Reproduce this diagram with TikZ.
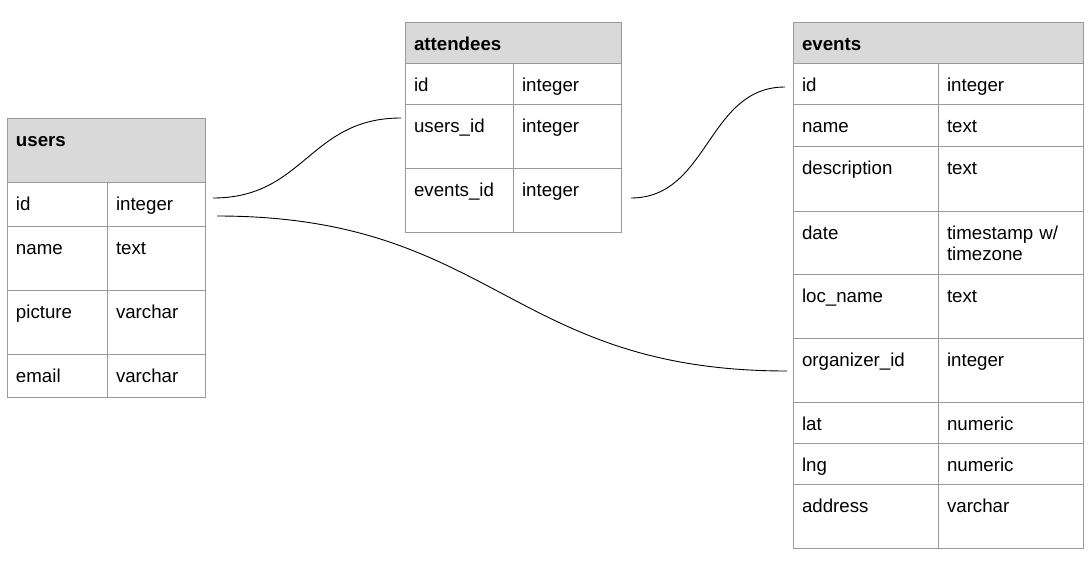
\documentclass[tikz,border=0pt]{standalone}
\usepackage{fontspec}
\setmainfont{Liberation Sans}
\usetikzlibrary{positioning}

\begin{document}
\begin{tikzpicture}[
    x=1pt, y=-1pt,
    node distance=0pt,
    cell/.style={rectangle, draw=black!40, line width=1pt, anchor=north west, inner xsep=9pt, inner ysep=0pt, outer sep=0pt, align=left, text height=28pt, font=\fontsize{18.7}{21.5}\selectfont},
    rowh/.style={text depth=#1-28},
    hdr/.style={cell, fill=black!15, font=\fontsize{18.7}{21.5}\selectfont\bfseries},
    link/.style={draw=black, line width=0.9pt}
]
\useasboundingbox (0,0) rectangle (1090,562);

% users
\node[hdr, text width=180pt, rowh=64] (users) at (7,118) {users};
\node[cell, text width=82pt, rowh=44, below right=0pt of users.south west] (uid) {id};
\node[cell, text width=80pt, rowh=44, right=0pt of uid] (uidt) {integer};
\node[cell, text width=82pt, rowh=64, below=0pt of uid] (uname) {name};
\node[cell, text width=80pt, rowh=64, right=0pt of uname] (unamet) {text};
\node[cell, text width=82pt, rowh=64, below=0pt of uname] (upic) {picture};
\node[cell, text width=80pt, rowh=64, right=0pt of upic] (upict) {varchar};
\node[cell, text width=82pt, rowh=43, below=0pt of upic] (umail) {email};
\node[cell, text width=80pt, rowh=43, right=0pt of umail] (umailt) {varchar};

% attendees
\node[hdr, text width=198pt, rowh=41] (attendees) at (405,22) {attendees};
\node[cell, text width=90pt, rowh=41, below right=0pt of attendees.south west] (aid) {id};
\node[cell, text width=90pt, rowh=41, right=0pt of aid] (aidt) {integer};
\node[cell, text width=90pt, rowh=64, below=0pt of aid] (auid) {users\_id};
\node[cell, text width=90pt, rowh=64, right=0pt of auid] (auidt) {integer};
\node[cell, text width=90pt, rowh=64, below=0pt of auid] (aevt) {events\_id};
\node[cell, text width=90pt, rowh=64, right=0pt of aevt] (aevtt) {integer};

% events
\node[hdr, text width=272pt, rowh=41] (events) at (793,22) {events};
\node[cell, text width=127pt, rowh=41, below right=0pt of events.south west] (eid) {id};
\node[cell, text width=127pt, rowh=41, right=0pt of eid] (eidt) {integer};
\node[cell, text width=127pt, rowh=42, below=0pt of eid] (ename) {name};
\node[cell, text width=127pt, rowh=42, right=0pt of ename] (enamet) {text};
\node[cell, text width=127pt, rowh=65, below=0pt of ename] (edesc) {description};
\node[cell, text width=127pt, rowh=65, right=0pt of edesc] (edesct) {text};
\node[cell, text width=127pt, rowh=63, below=0pt of edesc] (edate) {date};
\node[cell, text width=127pt, rowh=63, right=0pt of edate] (edatet) {timestamp w/\\timezone};
\node[cell, text width=127pt, rowh=64, below=0pt of edate] (eloc) {loc\_name};
\node[cell, text width=127pt, rowh=64, right=0pt of eloc] (eloct) {text};
\node[cell, text width=127pt, rowh=64, below=0pt of eloc] (eorg) {organizer\_id};
\node[cell, text width=127pt, rowh=64, right=0pt of eorg] (eorgt) {integer};
\node[cell, text width=127pt, rowh=41, below=0pt of eorg] (elat) {lat};
\node[cell, text width=127pt, rowh=41, right=0pt of elat] (elatt) {numeric};
\node[cell, text width=127pt, rowh=41, below=0pt of elat] (elng) {lng};
\node[cell, text width=127pt, rowh=41, right=0pt of elng] (elngt) {numeric};
\node[cell, text width=127pt, rowh=64, below=0pt of elng] (eaddr) {address};
\node[cell, text width=127pt, rowh=64, right=0pt of eaddr] (eaddrt) {varchar};

% relations
\draw[link] ([xshift=8pt,yshift=6pt]uidt.east) to[out=0,in=180,looseness=1.15] ([xshift=-4pt,yshift=18pt]auid.west);
\draw[link] ([xshift=12pt,yshift=-12pt]uidt.east) to[out=0,in=180,looseness=1.2] ([xshift=-6pt,yshift=-1pt]eorg.west);
\draw[link] ([xshift=10pt,yshift=2pt]aevtt.east) to[out=0,in=180,looseness=1.05] ([xshift=-8pt,yshift=-3.5pt]eid.west);
\end{tikzpicture}
\end{document}
